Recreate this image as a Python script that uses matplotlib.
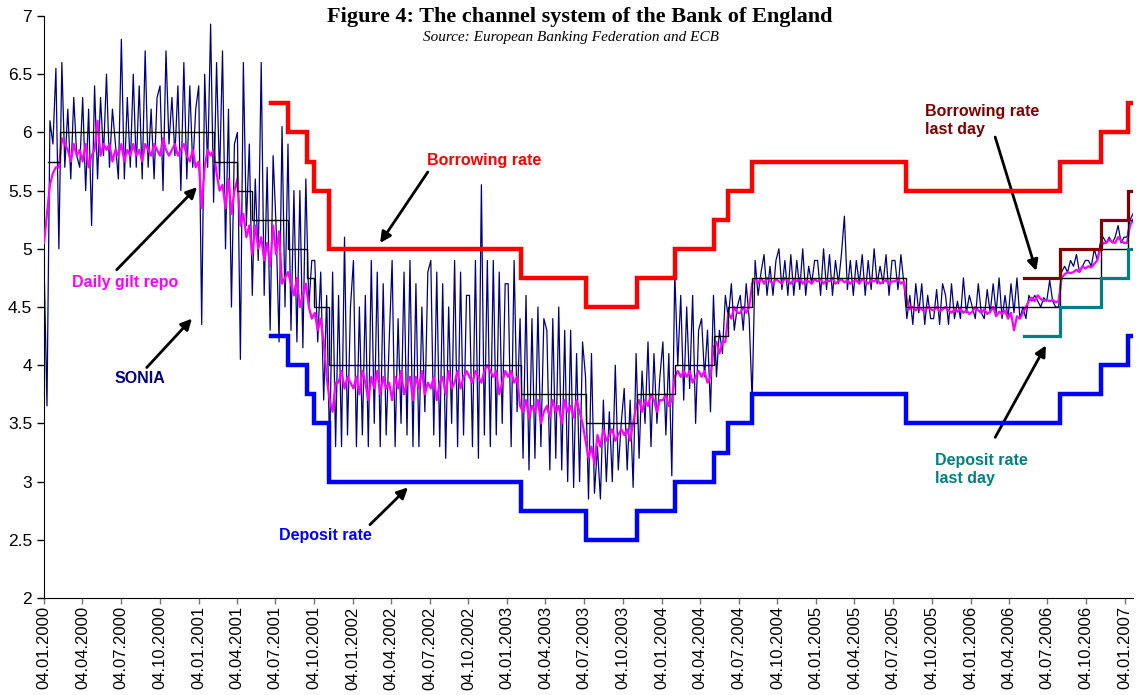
import numpy as np
import pandas as pd
import matplotlib
matplotlib.use('Agg')
import matplotlib.pyplot as plt

plt.rcParams['font.family'] = ['Liberation Sans', 'DejaVu Sans']

START = pd.Timestamp('2000-01-04')
END = pd.Timestamp('2007-01-23')

# Bank rate (black step)
policy_dates = ['2000-01-13', '2000-02-10', '2001-02-08', '2001-04-05', '2001-05-10',
                '2001-08-02', '2001-09-18', '2001-10-04', '2001-11-08', '2003-02-06',
                '2003-07-10', '2003-11-06', '2004-02-05', '2004-05-06', '2004-06-10',
                '2004-08-05', '2005-08-04', '2006-08-03', '2006-11-09', '2007-01-11']
policy_rate = [5.75, 6.0, 5.75, 5.5, 5.25, 5.0, 4.75, 4.5, 4.0, 3.75,
               3.5, 3.75, 4.0, 4.25, 4.5, 4.75, 4.5, 4.75, 5.0, 5.25]

# standing facilities
corridor_dates = ['2001-06-25', '2001-08-02', '2001-09-18', '2001-10-04', '2001-11-08',
                  '2003-02-06', '2003-07-10', '2003-11-06', '2004-02-05', '2004-05-06',
                  '2004-06-10', '2004-08-05', '2005-08-04', '2006-08-03', '2006-11-09',
                  '2007-01-11']
borrowing_rate = [6.25, 6.0, 5.75, 5.5, 5.0, 4.75, 4.5, 4.75, 5.0, 5.25,
                  5.5, 5.75, 5.5, 5.75, 6.0, 6.25]
deposit_rate = [4.25, 4.0, 3.75, 3.5, 3.0, 2.75, 2.5, 2.75, 3.0, 3.25,
                3.5, 3.75, 3.5, 3.75, 4.0, 4.25]

# last day of maintenance period facilities (after the 2006 reform)
lastday_dates = ['2006-05-10', '2006-08-03', '2006-11-09', '2007-01-11']
borrowing_last = [4.75, 5.0, 5.25, 5.5]
deposit_last = [4.25, 4.5, 4.75, 5.0]

# weekly readings, one line per quarter
sonia = [
    4.9, 3.65, 6.1, 5.9, 6.55, 5.0, 6.6, 5.7, 6.2, 5.6, 6.3, 5.8, 5.7,
    6.3, 5.5, 6.2, 5.2, 6.4, 5.6, 6.3, 5.8, 6.5, 5.7, 6.2, 5.9, 5.6,
    6.8, 5.6, 6.3, 5.7, 6.5, 5.7, 6.4, 5.6, 6.7, 5.7, 6.2, 5.6, 6.3,
    6.4, 5.5, 6.7, 5.9, 6.3, 5.8, 6.4, 5.5, 6.6, 5.6, 6.4, 5.7, 6.2,
    6.4, 4.35, 6.5, 5.7, 6.93, 5.4, 6.6, 5.6, 6.7, 5.0, 6.2, 4.5, 5.9,
    6.0, 4.05, 6.6, 5.2, 5.9, 4.6, 5.6, 4.9, 6.6, 4.6, 5.7, 4.3, 5.8,
    5.2, 4.2, 6.05, 4.5, 5.9, 4.3, 5.5, 4.2, 5.5, 4.15, 5.6, 4.5, 4.9,
    4.9, 4.2, 4.8, 3.7, 4.6, 3.25, 4.8, 3.3, 4.6, 3.3, 5.1, 3.4, 4.5,
    4.9, 3.3, 4.5, 3.4, 4.6, 3.3, 4.9, 3.5, 4.8, 3.3, 4.7, 3.4, 4.2,
    4.9, 3.3, 4.4, 3.5, 4.8, 3.4, 4.9, 3.3, 4.7, 3.3, 4.5, 3.6, 4.8,
    4.9, 3.4, 4.8, 3.3, 4.7, 3.2, 4.5, 3.5, 4.9, 3.3, 4.8, 3.4, 4.6,
    4.6, 3.3, 4.9, 3.2, 5.55, 3.4, 4.9, 3.3, 4.9, 3.4, 4.8, 3.5, 4.7,
    4.7, 3.3, 4.9, 3.6, 4.4, 3.2, 4.6, 3.1, 4.4, 3.2, 4.5, 3.3, 4.4,
    4.3, 3.1, 4.4, 3.2, 4.5, 3.1, 4.3, 3.0, 4.3, 2.95, 4.1, 3.0, 4.2,
    3.9, 2.85, 4.1, 2.9, 3.3, 2.85, 3.7, 3.0, 3.6, 3.0, 4.0, 3.1, 3.5,
    3.8, 3.1, 3.7, 2.95, 4.1, 3.2, 3.95, 3.5, 4.2, 3.3, 4.1, 3.5, 3.9,
    4.2, 3.4, 4.1, 3.05, 4.8, 4.0, 4.6, 3.7, 4.5, 3.8, 4.6, 3.5, 4.3,
    4.4, 3.9, 4.3, 3.6, 4.6, 3.9, 4.3, 4.1, 4.6, 4.4, 4.7, 4.3, 4.5,
    4.6, 4.3, 4.7, 4.4, 3.7, 4.9, 4.6, 4.8, 4.95, 4.6, 4.85, 4.6, 4.9,
    5.0, 4.65, 4.9, 4.6, 4.95, 4.6, 4.9, 4.65, 5.0, 4.6, 4.85, 4.7, 4.9,
    4.9, 4.6, 5.0, 4.65, 4.95, 4.6, 4.9, 4.7, 4.95, 5.28, 4.65, 4.9, 4.6,
    4.9, 4.7, 4.95, 4.6, 4.9, 4.65, 5.0, 4.7, 4.85, 4.7, 4.95, 4.6, 4.9,
    4.9, 4.65, 4.95, 4.7, 4.4, 4.6, 4.35, 4.7, 4.45, 4.7, 4.35, 4.6, 4.4,
    4.4, 4.65, 4.35, 4.7, 4.6, 4.35, 4.7, 4.4, 4.55, 4.4, 4.75, 4.45, 4.6,
    4.5, 4.4, 4.7, 4.45, 4.4, 4.65, 4.45, 4.7, 4.45, 4.75, 4.4, 4.6, 4.4,
    4.7, 4.45, 4.75, 4.4, 4.5, 4.4, 4.6, 4.55, 4.6, 4.55, 4.5, 4.58, 4.55,
    4.73, 4.55, 4.5, 4.5, 4.8, 4.85, 4.8, 4.9, 4.85, 4.95, 4.8, 4.85, 4.9,
    4.9, 4.85, 5.0, 4.9, 5.05, 5.1, 5.05, 5.1, 5.05, 5.1, 5.2, 5.05, 5.1,
    5.1, 5.25, 5.3,
]

gilt_repo = [
    5.05, 5.3, 5.55, 5.65, 5.7, 5.7, 5.95, 5.9, 5.85, 5.75, 5.9, 5.8, 5.85,
    5.75, 5.9, 5.7, 5.8, 5.85, 6.1, 5.8, 5.9, 5.85, 5.9, 5.75, 5.85, 5.8,
    5.9, 5.75, 5.85, 5.8, 5.9, 5.8, 5.85, 5.75, 5.9, 5.85, 5.8, 5.9, 5.85,
    5.8, 5.95, 5.85, 5.8, 5.85, 5.9, 5.8, 5.85, 5.9, 5.8, 5.75, 5.85, 5.7,
    5.75, 5.35, 5.7, 5.85, 5.8, 5.85, 5.65, 5.5, 5.55, 5.35, 5.6, 5.3, 5.5,
    5.6, 5.2, 5.3, 5.1, 5.2, 4.95, 5.2, 5.0, 5.1, 4.9, 5.05, 4.85, 5.2,
    4.95, 5.15, 4.7, 4.75, 4.8, 4.7, 4.6, 4.75, 4.5, 4.6, 4.7, 4.5, 4.4,
    4.45, 4.3, 4.4, 4.2, 3.9, 3.7, 3.6, 3.85, 3.85, 3.95, 3.8, 3.9, 3.85,
    3.8, 3.9, 3.75, 3.95, 3.85, 3.7, 3.9, 3.8, 3.95, 3.75, 3.9, 3.8, 3.85,
    3.7, 3.9, 3.8, 3.95, 3.75, 3.85, 3.9, 3.7, 3.9, 3.8, 3.95, 3.75, 3.85,
    3.8, 3.9, 3.7, 3.85, 3.9, 3.75, 3.95, 3.8, 3.85, 3.95, 3.8, 3.9, 3.95,
    3.9, 3.85, 3.95, 3.9, 3.85, 3.95, 4.0, 3.95, 3.9, 3.95, 3.75, 3.85, 3.95,
    3.9, 3.95, 3.85, 3.9, 3.65, 3.6, 3.7, 3.55, 3.65, 3.6, 3.7, 3.5, 3.6,
    3.65, 3.55, 3.7, 3.6, 3.65, 3.5, 3.7, 3.6, 3.65, 3.55, 3.7, 3.6, 3.5,
    3.35, 3.2, 3.3, 3.15, 3.4, 3.3, 3.45, 3.35, 3.4, 3.45, 3.35, 3.4, 3.45,
    3.4, 3.45, 3.35, 3.5, 3.65, 3.7, 3.6, 3.7, 3.65, 3.75, 3.7, 3.6, 3.7,
    3.7, 3.75, 3.65, 3.7, 3.9, 3.95, 3.9, 3.95, 3.9, 3.95, 3.85, 3.9, 3.95,
    3.9, 3.95, 3.85, 3.9, 4.15, 4.2, 4.1, 4.2, 4.2, 4.45, 4.4, 4.5, 4.45,
    4.45, 4.5, 4.45, 4.5, 4.7, 4.75, 4.7, 4.75, 4.7, 4.75, 4.72, 4.7, 4.74,
    4.72, 4.7, 4.75, 4.72, 4.7, 4.74, 4.72, 4.75, 4.7, 4.73, 4.72, 4.7, 4.74,
    4.72, 4.74, 4.7, 4.73, 4.72, 4.75, 4.7, 4.72, 4.74, 4.71, 4.73, 4.7, 4.72,
    4.73, 4.7, 4.74, 4.72, 4.7, 4.73, 4.72, 4.74, 4.7, 4.72, 4.73, 4.7, 4.72,
    4.72, 4.74, 4.7, 4.72, 4.55, 4.48, 4.5, 4.47, 4.5, 4.48, 4.46, 4.5, 4.48,
    4.47, 4.5, 4.46, 4.48, 4.5, 4.47, 4.45, 4.48, 4.46, 4.49, 4.45, 4.47, 4.44,
    4.46, 4.5, 4.47, 4.45, 4.48, 4.44, 4.46, 4.5, 4.42, 4.46, 4.44, 4.47, 4.4,
    4.45, 4.3, 4.42, 4.4, 4.45, 4.5, 4.55, 4.58, 4.55, 4.6, 4.57, 4.55, 4.56,
    4.55, 4.56, 4.54, 4.55, 4.75, 4.78, 4.8, 4.79, 4.8, 4.82, 4.8, 4.85, 4.83,
    4.85, 4.84, 4.87, 4.9, 5.0, 5.05, 5.05, 5.08, 5.06, 5.05, 5.1, 5.07, 5.05,
    5.05, 5.2, 5.25,
]

tick_dates = pd.date_range('2000-01-01', '2007-01-01', freq='QS') + pd.Timedelta(days=3)
y_ticks = np.arange(2, 7.01, 0.5)

fig = plt.figure(figsize=(11.37, 6.95), dpi=100)
ax = fig.add_axes([44 / 1137, 1 - 598 / 695, (1133 - 44) / 1137, (598 - 16) / 695])


def step_line(dates, rates, **kw):
    d = list(pd.to_datetime(dates)) + [END]
    r = list(rates) + [rates[-1]]
    ax.step(d, r, where='post', solid_joinstyle='miter', **kw)


week_dates = pd.date_range(START, END, periods=len(sonia))
ax.plot(week_dates, sonia, color='#000080', lw=0.9, zorder=2)
ax.plot(pd.date_range(START, END, periods=len(gilt_repo)), gilt_repo,
        color='#FF00FF', lw=1.6, zorder=3)
step_line(policy_dates, policy_rate, color='black', lw=1.0, zorder=4)
step_line(corridor_dates, borrowing_rate, color='#FF0000', lw=3.2, zorder=5)
step_line(corridor_dates, deposit_rate, color='#0000FF', lw=3.2, zorder=5)
step_line(lastday_dates, borrowing_last, color='#800000', lw=2.3, zorder=6)
step_line(lastday_dates, deposit_last, color='#008080', lw=2.3, zorder=6)

ax.set_xlim(START, END)
ax.set_ylim(2, 7)
ax.set_yticks(y_ticks)
ax.set_yticklabels([f'{v:g}' for v in y_ticks], fontsize=12.5)
ax.set_xticks(tick_dates)
ax.set_xticklabels([d.strftime('%d.%m.%Y') for d in tick_dates], rotation=90, fontsize=12)
ax.tick_params(direction='out', length=5, width=1)
ax.tick_params(axis='x', color='#777777', length=4, pad=2)
for s in ['top', 'right']:
    ax.spines[s].set_visible(False)

# labels and arrows
lab = dict(fontsize=11.5, fontweight='bold', ha='left', va='center')
arrow = dict(arrowstyle='-|>', color='black', lw=2, mutation_scale=16, shrinkA=0, shrinkB=0)
T = pd.Timestamp

ax.text(T('2002-06-28'), 5.76, 'Borrowing rate', color='#FF0000', **lab)
ax.annotate('', xy=(T('2002-03-09'), 5.05), xytext=(T('2002-06-30'), 5.66), arrowprops=arrow)

ax.text(T('2000-03-10'), 4.71, 'Daily gilt repo', color='#FF00FF', **lab)
ax.annotate('', xy=(T('2000-12-31'), 5.53), xytext=(T('2000-06-24'), 4.82), arrowprops=arrow)

ax.text(T('2000-06-19'), 3.89, 'SONIA', color='#000080', **lab)
ax.annotate('', xy=(T('2000-12-19'), 4.40), xytext=(T('2000-09-03'), 3.98), arrowprops=arrow)

ax.text(T('2001-07-13'), 2.54, 'Deposit rate', color='#0000FF', **lab)
ax.annotate('', xy=(T('2002-05-14'), 2.95), xytext=(T('2002-02-13'), 2.63), arrowprops=arrow)

ax.text(T('2005-09-18'), 6.10, 'Borrowing rate\nlast day', color='#800000', linespacing=1.25, **lab)
ax.annotate('', xy=(T('2006-06-08'), 4.81), xytext=(T('2006-03-03'), 5.96), arrowprops=arrow)

ax.text(T('2005-10-12'), 3.10, 'Deposit rate\nlast day', color='#008080', linespacing=1.25, **lab)
ax.annotate('', xy=(T('2006-07-01'), 4.17), xytext=(T('2006-03-03'), 3.38), arrowprops=arrow)

fig.text(580 / 1137, 1 - 17 / 695, 'Figure 4: The channel system of the Bank of England',
         family='Liberation Serif', fontweight='bold', fontsize=16, ha='center', va='center')
fig.text(571 / 1137, 1 - 37 / 695, 'Source: European Banking Federation and ECB',
         family='Liberation Serif', style='italic', fontsize=11, ha='center', va='center')

fig.savefig('out.png', dpi=100)
